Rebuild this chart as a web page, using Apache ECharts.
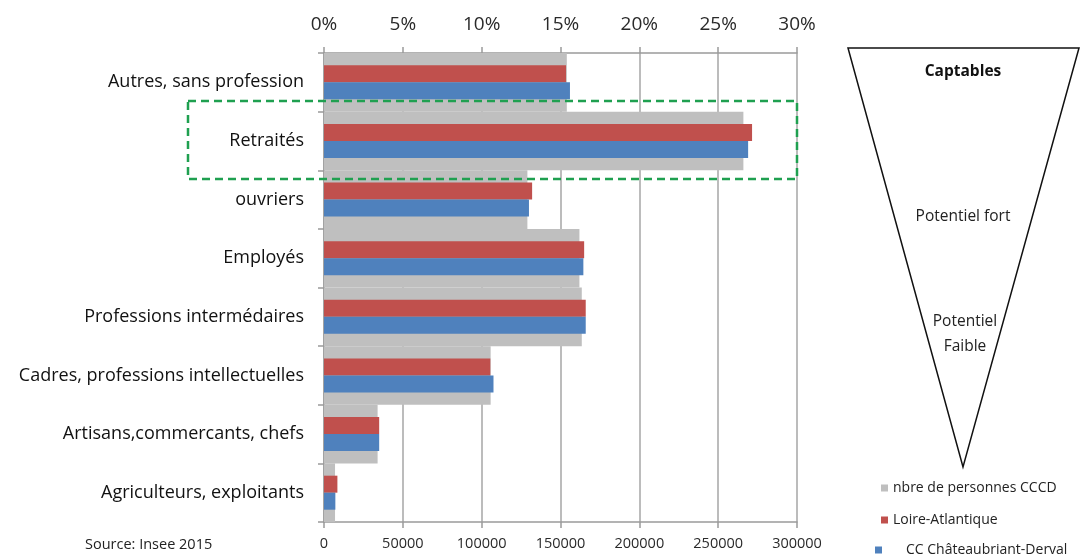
<!DOCTYPE html>
<html><head><meta charset="utf-8">
<script src="https://cdn.jsdelivr.net/npm/echarts/dist/echarts.min.js"></script>
<style>html,body{margin:0;padding:0;background:#fff}#c{width:1081px;height:557px}</style>
</head><body><div id="c"></div>
<script>
const categories = ['Agriculteurs, exploitants', 'Artisans,commercants, chefs', 'Cadres, professions intellectuelles', 'Professions intermédaires', 'Employés', 'ouvriers', 'Retraités', 'Autres, sans profession'];
const personnesCCCD = [7000, 34000, 105700, 163500, 162000, 129000, 266000, 154000];
const loireAtlantique = [0.85, 3.5, 10.55, 16.6, 16.5, 13.2, 27.15, 15.35];
const ccChateaubriant = [0.72, 3.5, 10.75, 16.6, 16.45, 13.0, 26.9, 15.6];
const seriesNames = ['nbre de personnes CCCD', 'Loire-Atlantique', 'CC Châteaubriant-Derval'];
const FONT = '"Open Sans", Lato, sans-serif';
const legendText = {fontSize: 14, color: '#222', fontFamily: FONT, lineHeight: 16};

const chart = echarts.init(document.getElementById('c'), null, {renderer: 'canvas'});
chart.setOption({
  animation: false,
  backgroundColor: '#fff',
  textStyle: {fontFamily: FONT},
  grid: {left: 324, right: 284, top: 53, bottom: 35, containLabel: false},
  legend: [{
    data: seriesNames.slice(0, 2), orient: 'vertical', left: 881, top: 480, padding: 0,
    itemWidth: 7, itemHeight: 7, itemGap: 16, icon: 'rect', textStyle: legendText
  }, {
    data: seriesNames.slice(2), orient: 'vertical', left: 875, top: 542, padding: 0,
    itemWidth: 7, itemHeight: 7, icon: 'rect',
    textStyle: Object.assign({}, legendText, {padding: [0, 0, 0, 19]})
  }],
  xAxis: [{
    type: 'value', position: 'top', min: 0, max: 30, interval: 5,
    axisLabel: {formatter: '{value}%', fontSize: 19, color: '#2a2a2a', margin: 19, fontFamily: FONT},
    axisLine: {show: true, lineStyle: {color: '#9a9a9a', width: 1.5}},
    axisTick: {show: true, length: 6, lineStyle: {color: '#9a9a9a', width: 1.5}},
    splitLine: {show: true, lineStyle: {color: '#a6a6a6', width: 1.5}}
  }, {
    type: 'value', position: 'bottom', min: 0, max: 300000, interval: 50000,
    axisLabel: {formatter: v => String(v), fontSize: 14.5, color: '#2a2a2a', margin: 14, fontFamily: FONT},
    axisLine: {show: true, lineStyle: {color: '#9a9a9a', width: 1.5}},
    axisTick: {show: true, length: 6, lineStyle: {color: '#9a9a9a', width: 1.5}},
    splitLine: {show: false}
  }],
  yAxis: [{
    type: 'category', data: categories,
    axisLabel: {fontSize: 18, color: '#111', margin: 20, fontFamily: FONT},
    axisLine: {show: true, lineStyle: {color: '#9a9a9a', width: 1.5}},
    axisTick: {show: true, length: 6, lineStyle: {color: '#9a9a9a', width: 1.5}}
  }, {
    type: 'category', data: categories, show: false
  }],
  series: [{
    name: seriesNames[0], type: 'bar', xAxisIndex: 1, yAxisIndex: 1,
    data: personnesCCCD, barCategoryGap: '0%', itemStyle: {color: '#BFBFBF'}
  }, {
    name: seriesNames[1], type: 'bar', xAxisIndex: 0, yAxisIndex: 0,
    data: loireAtlantique, barGap: '0%', barCategoryGap: '42%', itemStyle: {color: '#C0504D'}
  }, {
    name: seriesNames[2], type: 'bar', xAxisIndex: 0, yAxisIndex: 0,
    data: ccChateaubriant, barGap: '0%', barCategoryGap: '42%', itemStyle: {color: '#4F81BD'}
  }],
  graphic: [
    {type: 'polygon', shape: {points: [[848, 48], [1079, 48], [963, 467]]}, style: {fill: 'none', stroke: '#111', lineWidth: 1.5}},
    {type: 'text', x: 963, y: 72, style: {text: 'Captables', fontSize: 15.5, fontWeight: 'bold', fill: '#111', align: 'center', verticalAlign: 'middle', fontFamily: FONT}},
    {type: 'text', x: 963, y: 217, style: {text: 'Potentiel fort', fontSize: 15.5, fill: '#222', align: 'center', verticalAlign: 'middle', fontFamily: FONT}},
    {type: 'text', x: 965, y: 334, style: {text: 'Potentiel\nFaible', fontSize: 15.5, lineHeight: 25, fill: '#222', align: 'center', verticalAlign: 'middle', fontFamily: FONT}},
    {type: 'rect', z: 100, shape: {x: 188, y: 101, width: 609, height: 78}, style: {fill: 'none', stroke: '#1FA050', lineWidth: 2.5, lineDash: [8, 5]}},
    {type: 'text', x: 85, y: 545, style: {text: 'Source: Insee 2015', fontSize: 14.5, fill: '#222', verticalAlign: 'middle', fontFamily: FONT}}
  ]
});
</script></body></html>
